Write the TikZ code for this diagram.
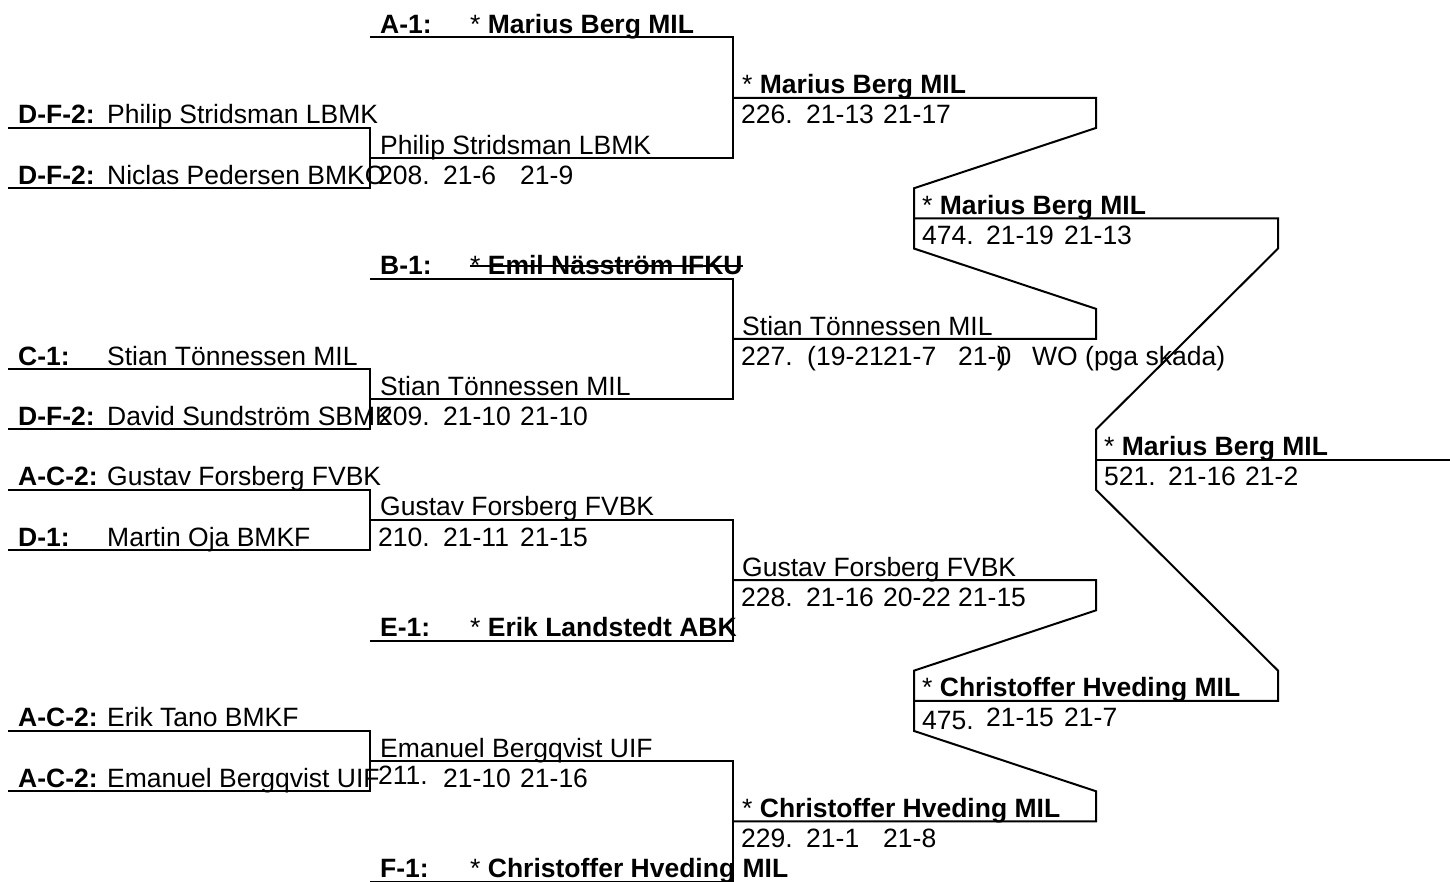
\documentclass[tikz,border=0pt]{standalone}
\usepackage{fontspec}
\setmainfont{Liberation Sans}
\usepackage{tikz}

\tikzset{
  bline/.style={line width=2pt, line join=miter},
  txt/.style={anchor=base west, inner sep=0pt, font=\fontsize{26.5}{30}\selectfont},
  btxt/.style={txt, font=\fontsize{26.5}{30}\selectfont\bfseries},
  strike/.style={line width=2pt},
}

\begin{document}
\begin{tikzpicture}[x=1pt, y=-1pt]
  \useasboundingbox (0,0) rectangle (1450,882);

  % Grid of row / column points
  \foreach \c/\xx in {a/8, b/370, c/733, d/914, e/1096, f/1278, g/1450} {
    \foreach \k in {0,...,28} {
      \coordinate (\c\k) at (\xx, {37.5+30.15*\k});
    }
  }

  % Round 1 brackets
  \draw[bline] (a3) -| (b5) -- (a5);
  \draw[bline] (a11) -| (b13) -- (a13);
  \draw[bline] (a15) -| (b17) -- (a17);
  \draw[bline] (a23) -| (b25) -- (a25);

  % Round 2 brackets
  \draw[bline] (b0) -| (c4) -- (b4);
  \draw[bline] (b8) -| (c12) -- (b12);
  \draw[bline] (b20) -| (c16) -- (b16);
  \draw[bline] (b28) -| (c24) -- (b24);

  % Round 3 brackets
  \draw[bline] (c2) -- (e2) -- (e3) -- (d5) -- (d7) -- (e9) -- (e10) -- (c10);
  \draw[bline] (c18) -- (e18) -- (e19) -- (d21) -- (d23) -- (e25) -- (e26) -- (c26);

  % Semi final bracket and final line
  \draw[bline] (d6) -- (f6) -- (f7) -- (e13) -- (e15) -- (f21) -- (f22) -- (d22);
  \draw[bline] (e14) -- (g14);

  % Round 1 players
  \node[btxt] (sPhilip) at ([shift={(10,-4)}]a3) {D-F-2:};
  \node[txt] (pPhilip) at ([shift={(99,-4)}]a3) {Philip Stridsman LBMK};
  \node[btxt] (sNiclas) at ([shift={(10,-4)}]a5) {D-F-2:};
  \node[txt] (pNiclas) at ([shift={(99,-4)}]a5) {Niclas Pedersen BMKO};
  \node[btxt] (sStian) at ([shift={(10,-4)}]a11) {C-1:};
  \node[txt] (pStian) at ([shift={(99,-4)}]a11) {Stian Tönnessen MIL};
  \node[btxt] (sDavid) at ([shift={(10,-4)}]a13) {D-F-2:};
  \node[txt] (pDavid) at ([shift={(99,-4)}]a13) {David Sundström SBMK};
  \node[btxt] (sGustav) at ([shift={(10,-4)}]a15) {A-C-2:};
  \node[txt] (pGustav) at ([shift={(99,-4)}]a15) {Gustav Forsberg FVBK};
  \node[btxt] (sMartin) at ([shift={(10,-4)}]a17) {D-1:};
  \node[txt] (pMartin) at ([shift={(99,-4)}]a17) {Martin Oja BMKF};
  \node[btxt] (sErik) at ([shift={(10,-4)}]a23) {A-C-2:};
  \node[txt] (pErik) at ([shift={(99,-4)}]a23) {Erik Tano BMKF};
  \node[btxt] (sEmanuel) at ([shift={(10,-4)}]a25) {A-C-2:};
  \node[txt] (pEmanuel) at ([shift={(99,-4)}]a25) {Emanuel Bergqvist UIF};

  % Seeded players
  \node[btxt] (sMarius) at ([shift={(10,-4)}]b0) {A-1:};
  \node[txt] (pMarius) at ([shift={(100,-4)}]b0) {* \textbf{Marius Berg MIL}};
  \node[btxt] (sEmil) at ([shift={(10,-4)}]b8) {B-1:};
  \node[txt] (pEmil) at ([shift={(100,-4)}]b8) {* \textbf{Emil Näsström IFKU}};
  \draw[strike] ([yshift=9pt]pEmil.base west) -- ([yshift=9pt]pEmil.base east);
  \node[btxt] (sLandstedt) at ([shift={(10,-4)}]b20) {E-1:};
  \node[txt] (pLandstedt) at ([shift={(100,-4)}]b20) {* \textbf{Erik Landstedt ABK}};
  \node[btxt] (sChristoffer) at ([shift={(10,-4)}]b28) {F-1:};
  \node[txt] (pChristoffer) at ([shift={(100,-4)}]b28) {* \textbf{Christoffer Hveding MIL}};

  % Round 2 results
  \node[txt] (w208) at ([shift={(10,-4)}]b4) {Philip Stridsman LBMK};
  \node[txt] (m208) at ([shift={(8,-4)}]b5) {208.};
  \node[txt] (m208a) at ([shift={(73,-4)}]b5) {21-6};
  \node[txt] (m208b) at ([shift={(150,-4)}]b5) {21-9};
  \node[txt] (w209) at ([shift={(10,-4)}]b12) {Stian Tönnessen MIL};
  \node[txt] (m209) at ([shift={(8,-4)}]b13) {209.};
  \node[txt] (m209a) at ([shift={(73,-4)}]b13) {21-10};
  \node[txt] (m209b) at ([shift={(150,-4)}]b13) {21-10};
  \node[txt] (w210) at ([shift={(10,-4)}]b16) {Gustav Forsberg FVBK};
  \node[txt] (m210) at ([shift={(8,-4)}]b17) {210.};
  \node[txt] (m210a) at ([shift={(73,-4)}]b17) {21-11};
  \node[txt] (m210b) at ([shift={(150,-4)}]b17) {21-15};
  \node[txt] (w211) at ([shift={(10,-4)}]b24) {Emanuel Bergqvist UIF};
  \node[txt] (m211) at ([shift={(8,-7)}]b25) {211.};
  \node[txt] (m211a) at ([shift={(73,-4)}]b25) {21-10};
  \node[txt] (m211b) at ([shift={(150,-4)}]b25) {21-16};

  % Round 3 results
  \node[txt] (w226) at ([shift={(9,-4)}]c2) {* \textbf{Marius Berg MIL}};
  \node[txt] (m226) at ([shift={(8,-4)}]c3) {226.};
  \node[txt] (m226a) at ([shift={(73,-4)}]c3) {21-13};
  \node[txt] (m226b) at ([shift={(150,-4)}]c3) {21-17};
  \node[txt] (w227) at ([shift={(9,-4)}]c10) {Stian Tönnessen MIL};
  \node[txt] (m227) at ([shift={(8,-4)}]c11) {227.};
  \node[txt] (m227a) at ([shift={(74,-4)}]c11) {(19-21};
  \node[txt] (m227b) at ([shift={(150,-4)}]c11) {21-7};
  \node[txt] (m227c) at ([shift={(225,-4)}]c11) {21-0};
  \node[txt] (m227d) at ([shift={(264,-4)}]c11) {)};
  \node[txt] (m227e) at ([shift={(299,-4)}]c11) {WO (pga skada)};
  \node[txt] (w228) at ([shift={(9,-4)}]c18) {Gustav Forsberg FVBK};
  \node[txt] (m228) at ([shift={(8,-4)}]c19) {228.};
  \node[txt] (m228a) at ([shift={(73,-4)}]c19) {21-16};
  \node[txt] (m228b) at ([shift={(150,-4)}]c19) {20-22};
  \node[txt] (m228c) at ([shift={(225,-4)}]c19) {21-15};
  \node[txt] (w229) at ([shift={(9,-4)}]c26) {* \textbf{Christoffer Hveding MIL}};
  \node[txt] (m229) at ([shift={(8,-4)}]c27) {229.};
  \node[txt] (m229a) at ([shift={(73,-4)}]c27) {21-1};
  \node[txt] (m229b) at ([shift={(150,-4)}]c27) {21-8};

  % Semi finals
  \node[txt] (w474) at ([shift={(8,-4)}]d6) {* \textbf{Marius Berg MIL}};
  \node[txt] (m474) at ([shift={(8,-4)}]d7) {474.};
  \node[txt] (m474a) at ([shift={(72,-4)}]d7) {21-19};
  \node[txt] (m474b) at ([shift={(150,-4)}]d7) {21-13};
  \node[txt] (w475) at ([shift={(8,-4)}]d22) {* \textbf{Christoffer Hveding MIL}};
  \node[txt] (m475) at ([shift={(8,-1)}]d23) {475.};
  \node[txt] (m475a) at ([shift={(72,-4)}]d23) {21-15};
  \node[txt] (m475b) at ([shift={(150,-4)}]d23) {21-7};

  % Final
  \node[txt] (w521) at ([shift={(8,-4)}]e14) {* \textbf{Marius Berg MIL}};
  \node[txt] (m521) at ([shift={(8,-4)}]e15) {521.};
  \node[txt] (m521a) at ([shift={(72,-4)}]e15) {21-16};
  \node[txt] (m521b) at ([shift={(149,-4)}]e15) {21-2};
\end{tikzpicture}
\end{document}
